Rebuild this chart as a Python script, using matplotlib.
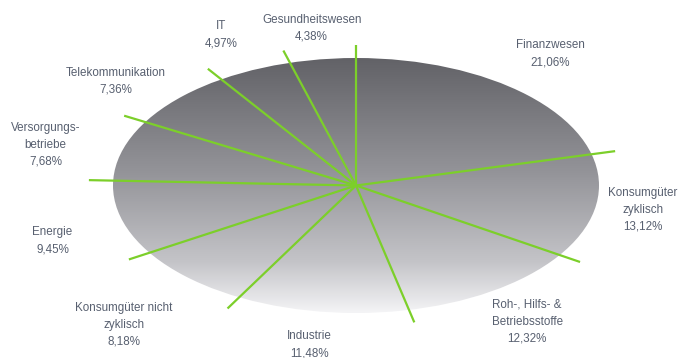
# Branchenaufteilung als flache "3D"-Torte mit gruenen Trennlinien

import numpy as np
import matplotlib.pyplot as plt
from matplotlib.patches import Ellipse
from matplotlib.colors import LinearSegmentedColormap

sectors = ['Finanzwesen', 'Konsumgüter\nzyklisch', 'Roh-, Hilfs- &\nBetriebsstoffe',
           'Industrie', 'Konsumgüter nicht\nzyklisch', 'Energie',
           'Versorgungs-\nbetriebe', 'Telekommunikation', 'IT', 'Gesundheitswesen']
shares = [21.06, 13.12, 12.32, 11.48, 8.18, 9.45, 7.68, 7.36, 4.97, 4.38]

W, H = 678, 358
cx, cy = 356, 185.5  # centre of the ellipse (px)
a, b = 243, 127.5  # semi axes
line_r = 1.1  # separator length, relative
label_r = 1.3
# small pixel nudges so labels sit like in the original
nudge = [(0, -1), (-25, -3), (-9, 0), (-2, -5), (-15, 19),
         (2, 13), (-7, 5), (-10, 9), (-3, 0), (-1, 7)]

fig = plt.figure(figsize=(W / 100, H / 100), dpi=100)
ax = fig.add_axes([0, 0, 1, 1])
ax.set_xlim(0, W)
ax.set_ylim(H, 0)
ax.axis('off')

# gray gradient, dark on top, fading to white at the bottom
cmap = LinearSegmentedColormap.from_list(
    'g', [(0, '#626267'), (0.45, '#949499'), (0.8, '#c4c4c8'), (1, '#f4f4f6')])
grad = np.linspace(0, 1, 256).reshape(-1, 1)
ell = Ellipse((cx, cy), 2 * a, 2 * b, facecolor='none', edgecolor='none')
ax.add_patch(ell)
im = ax.imshow(grad, cmap=cmap, aspect='auto',
               extent=[cx - a, cx + a, cy + b, cy - b], zorder=1)
im.set_clip_path(ell)

# wedges clockwise from 12 o'clock
fr = np.array(shares) / sum(shares)
edges = np.concatenate([[0], np.cumsum(fr)])
ang = np.pi / 2 - 2 * np.pi * edges  # standard angle of every boundary

for t in ang[:-1]:
    ax.plot([cx, cx + line_r * a * np.cos(t)],
            [cy, cy - line_r * b * np.sin(t)],
            color='#7ccf2a', lw=1.6, solid_capstyle='butt', zorder=3)

mid = (ang[:-1] + ang[1:]) / 2
for name, val, t, (dx, dy) in zip(sectors, shares, mid, nudge):
    x = cx + label_r * a * np.cos(t) + dx
    y = cy - label_r * b * np.sin(t) + dy
    txt = name + '\n' + f'{val:.2f}'.replace('.', ',') + '%'
    ax.text(x, y, txt, ha='center', va='center', fontsize=8.4,
            color='#586070', linespacing=1.55, family='Liberation Sans', zorder=4)

fig.savefig('out.png', dpi=100)
